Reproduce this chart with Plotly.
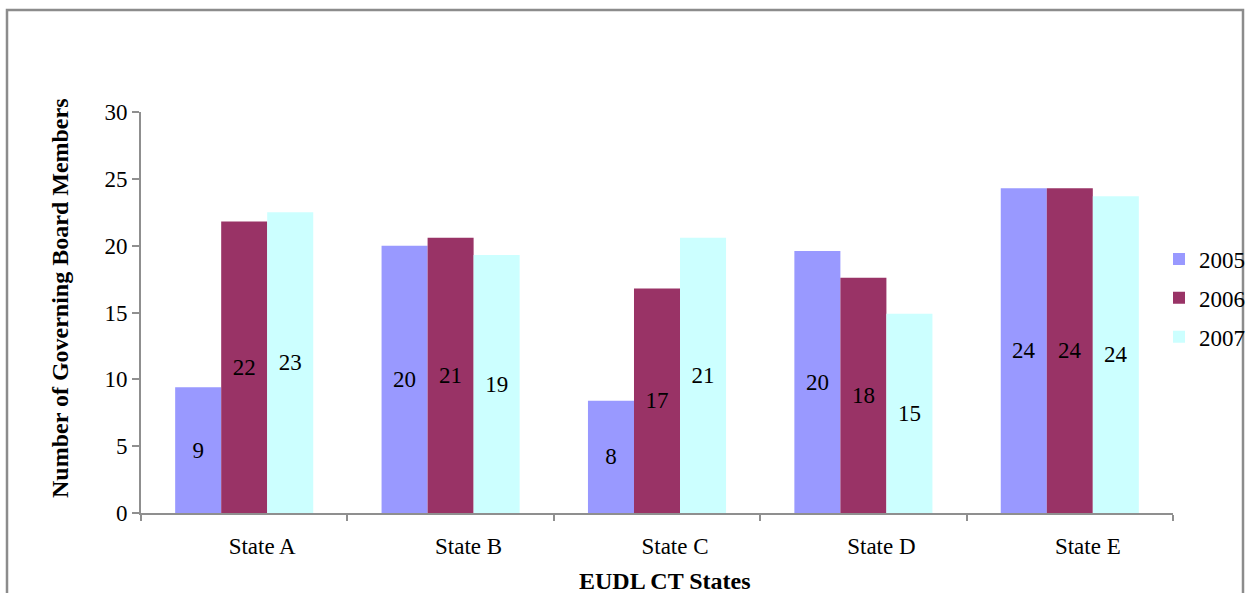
import plotly.graph_objects as go

# Governing board size per state, by year
states = ["State A", "State B", "State C", "State D", "State E"]
years = ["2005", "2006", "2007"]
members_2005 = [9.4, 20.0, 8.4, 19.6, 24.3]
members_2006 = [21.8, 20.6, 16.8, 17.6, 24.3]
members_2007 = [22.5, 19.3, 20.6, 14.9, 23.7]
colors = ["#9999FF", "#993366", "#CCFFFF"]

FONT = "Liberation Serif, Times New Roman, serif"
AXIS_GREY = "#8f8f8f"

W, H = 1257, 593
L, R, T, B = 141, 84, 112, 80
PW, PH = W - L - R, H - T - B


def px_x(x):
    return (x - L) / PW


def px_y(y):
    return (H - B - y) / PH


fig = go.Figure()
for yr, vals, col in zip(years, [members_2005, members_2006, members_2007], colors):
    fig.add_trace(go.Bar(
        name=yr, x=states, y=vals, marker=dict(color=col, line=dict(width=0)),
        texttemplate="%{y:.0f}", textposition="inside", insidetextanchor="middle",
        textangle=0, textfont=dict(family=FONT, size=23, color="black"),
        legendgroup=yr,
    ))

fig.update_layout(
    width=W, height=H,
    margin=dict(l=L, r=R, t=T, b=B, autoexpand=False),
    paper_bgcolor="white", plot_bgcolor="white",
    barmode="group", bargap=0.331, bargroupgap=0,
    font=dict(family=FONT, size=23, color="black"),
    showlegend=True,
    legend=dict(
        x=px_x(1159), xanchor="left", y=px_y(298), yanchor="middle",
        font=dict(family=FONT, size=23, color="black"),
        tracegroupgap=6, bgcolor="rgba(0,0,0,0)", borderwidth=0,
    ),
    xaxis=dict(
        showline=True, linecolor=AXIS_GREY, linewidth=2,
        ticks="outside", tickson="boundaries", ticklen=6, tickwidth=2,
        tickcolor=AXIS_GREY, ticklabelshift=18, ticklabelstandoff=11,
        tickfont=dict(family=FONT, size=23, color="black"),
        showgrid=False, zeroline=False,
    ),
    yaxis=dict(
        range=[0, 30], dtick=5, showline=True, linecolor=AXIS_GREY, linewidth=2,
        ticks="outside", ticklen=7, tickwidth=2, tickcolor=AXIS_GREY,
        tickfont=dict(family=FONT, size=23, color="black"),
        showgrid=False, zeroline=False,
    ),
    annotations=[
        dict(text="Number of Governing Board Members", textangle=-90,
             xref="paper", yref="paper", x=px_x(60), y=px_y(298),
             xanchor="center", yanchor="middle", showarrow=False,
             font=dict(family=FONT, size=24, color="black", weight="bold")),
        dict(text="EUDL CT States",
             xref="paper", yref="paper", x=px_x(665), y=px_y(581),
             xanchor="center", yanchor="middle", showarrow=False,
             font=dict(family=FONT, size=24, color="black", weight="bold")),
    ],
    shapes=[
        dict(type="path", xref="paper", yref="paper",
             path=f"M {px_x(7)} {px_y(700)} L {px_x(7)} {px_y(10)} "
                  f"L {px_x(1243)} {px_y(10)} L {px_x(1243)} {px_y(700)}",
             line=dict(color="#8c8c8c", width=2.5)),
    ],
)

fig.write_html("out.html")
